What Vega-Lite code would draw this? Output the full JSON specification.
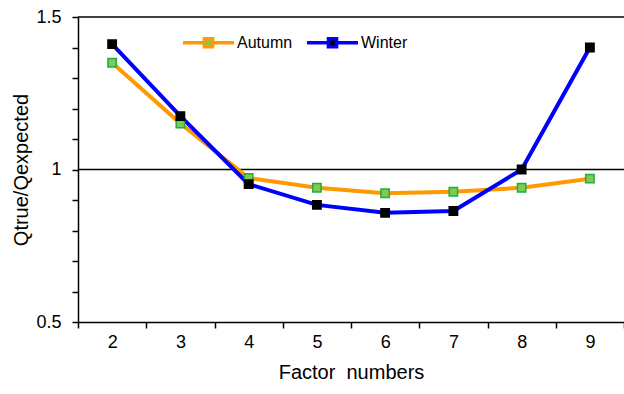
{
  "$schema": "https://vega.github.io/schema/vega-lite/v6.json",
  "width": 546,
  "height": 305,
  "autosize": "none",
  "padding": {"left": 78, "top": 17, "right": 0, "bottom": 72},
  "background": "white",
  "config": {
    "view": {"stroke": null},
    "font": "Liberation Sans",
    "axis": {"grid": false, "domainColor": "black", "tickColor": "black", "labelColor": "black", "titleColor": "black", "labelFont": "Liberation Sans", "titleFont": "Liberation Sans", "titleFontWeight": "normal", "domainWidth": 1.5, "tickWidth": 1.5}
  },
  "data": {"values": [
    {"factor": 2, "season": "Autumn", "q": 1.35},
    {"factor": 3, "season": "Autumn", "q": 1.151},
    {"factor": 4, "season": "Autumn", "q": 0.972},
    {"factor": 5, "season": "Autumn", "q": 0.94},
    {"factor": 6, "season": "Autumn", "q": 0.922},
    {"factor": 7, "season": "Autumn", "q": 0.927},
    {"factor": 8, "season": "Autumn", "q": 0.94},
    {"factor": 9, "season": "Autumn", "q": 0.97},
    {"factor": 2, "season": "Winter", "q": 1.411},
    {"factor": 3, "season": "Winter", "q": 1.175},
    {"factor": 4, "season": "Winter", "q": 0.952},
    {"factor": 5, "season": "Winter", "q": 0.884},
    {"factor": 6, "season": "Winter", "q": 0.858},
    {"factor": 7, "season": "Winter", "q": 0.864},
    {"factor": 8, "season": "Winter", "q": 1.0},
    {"factor": 9, "season": "Winter", "q": 1.40}
  ]},
  "encoding": {
    "x": {
      "field": "factor", "type": "ordinal",
      "scale": {"paddingInner": 0, "paddingOuter": 0},
      "axis": {"title": "Factor\u00a0 numbers", "labelAngle": 0, "labelFontSize": 18, "titleFontSize": 20, "tickBand": "extent", "tickSize": 6, "labelPadding": 5, "titlePadding": 11}
    },
    "y": {
      "field": "q", "type": "quantitative",
      "scale": {"domain": [0.5, 1.5], "nice": false, "zero": false},
      "axis": {"title": "Qtrue/Qexpected", "values": [0.5, 0.6, 0.7, 0.8, 0.9, 1, 1.1, 1.2, 1.3, 1.4, 1.5], "labelExpr": "abs(datum.value-0.5)<0.001 ? '0.5' : abs(datum.value-1)<0.001 ? '1' : abs(datum.value-1.5)<0.001 ? '1.5' : ''", "labelFontSize": 18, "titleFontSize": 20, "tickSize": 6, "labelPadding": 11, "titlePadding": 4}
    }
  },
  "layer": [
    {
      "data": {"values": [{"ref": 1}, {"ref": 1.5}]},
      "mark": {"type": "rule", "color": "black", "strokeWidth": 1.5},
      "encoding": {"y": {"field": "ref", "type": "quantitative"}, "x": null}
    },
    {
      "mark": {"type": "line", "strokeWidth": 4},
      "encoding": {
        "stroke": {
          "field": "season", "type": "nominal",
          "scale": {"domain": ["Autumn", "Winter"], "range": ["#FF9900", "#0000FF"]},
          "legend": {"title": null, "orient": "none", "legendX": 103, "legendY": -2, "direction": "horizontal", "labelFontSize": 16, "labelColor": "black", "symbolType": "M-1,0H-0.16M0.16,0H1M-0.16,-0.16H0.16V0.16H-0.16Z", "symbolSize": 2600, "symbolStrokeWidth": 3.5, "labelOffset": 1, "columnPadding": 7}
        }
      }
    },
    {
      "mark": {"type": "point", "shape": "square", "filled": true, "size": 70, "opacity": 1, "strokeWidth": 1.5},
      "encoding": {
        "fill": {
          "field": "season", "type": "nominal",
          "scale": {"domain": ["Autumn", "Winter"], "range": ["#7ACC52", "#000000"]},
          "legend": {"title": null, "orient": "none", "legendX": 103, "legendY": -2, "direction": "horizontal", "labelFontSize": 16, "labelColor": "black", "symbolType": "M-1,0H-0.16M0.16,0H1M-0.16,-0.16H0.16V0.16H-0.16Z", "symbolSize": 2600, "symbolStrokeWidth": 3.5, "labelOffset": 1, "columnPadding": 7}
        },
        "stroke": {"condition": {"test": "datum.season === 'Autumn'", "value": "#22AA44"}, "value": "#000000"}
      }
    }
  ]
}
